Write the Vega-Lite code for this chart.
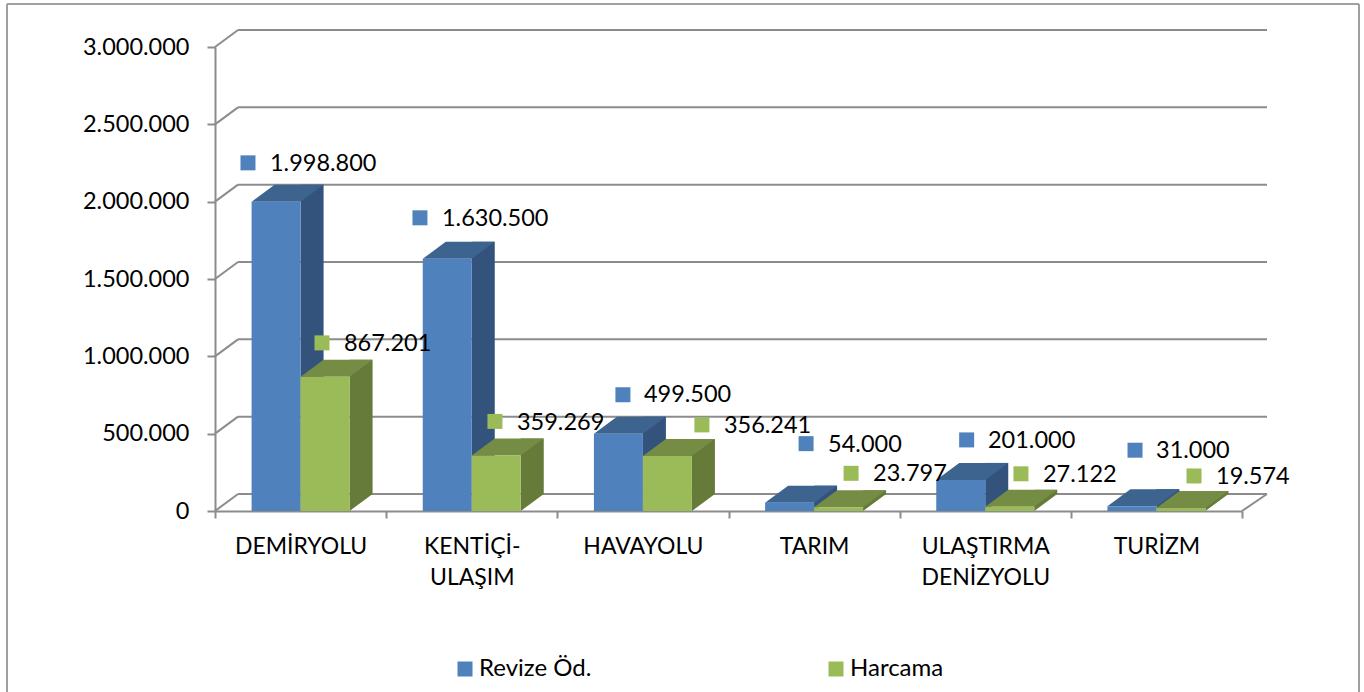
{
"$schema":"https://vega.github.io/schema/vega-lite/v6.json",
"autosize":"none",
"width":1027,"height":464,
"padding":{"left":215,"top":47,"right":122,"bottom":181},
"background":"white",
"config":{"locale":{"number":{"decimal":",","thousands":".","grouping":[3],"currency":["","TL"]}},"view":{"stroke":null},"font":"Lato",
"axisY":{"labelFontSize":23.5,"labelColor":"black","labelPadding":18,"tickSize":8,"tickWidth":2,"tickColor":"#8c8c8c","domainColor":"#8c8c8c","domainWidth":2,"grid":false,"labelFont":"Lato","title":null}},
"data":{"values":[
{"kategori":"DEMİRYOLU","seri":"Revize Öd.","deger":1998800},
{"kategori":"DEMİRYOLU","seri":"Harcama","deger":867201},
{"kategori":"KENTİÇİ- ULAŞIM","seri":"Revize Öd.","deger":1630500},
{"kategori":"KENTİÇİ- ULAŞIM","seri":"Harcama","deger":359269},
{"kategori":"HAVAYOLU","seri":"Revize Öd.","deger":499500},
{"kategori":"HAVAYOLU","seri":"Harcama","deger":356241},
{"kategori":"TARIM","seri":"Revize Öd.","deger":54000},
{"kategori":"TARIM","seri":"Harcama","deger":23797},
{"kategori":"ULAŞTIRMA DENİZYOLU","seri":"Revize Öd.","deger":201000},
{"kategori":"ULAŞTIRMA DENİZYOLU","seri":"Harcama","deger":27122},
{"kategori":"TURİZM","seri":"Revize Öd.","deger":31000},
{"kategori":"TURİZM","seri":"Harcama","deger":19574}
]},
"encoding":{
"x":{"field":"kategori","type":"nominal","sort":null,"title":null,
"scale":{"padding":0},
"axis":{"labelAngle":0,"labelExpr":"split(datum.label,' ')","labelFontSize":23,"labelColor":"black","labelPadding":17,"labelLineHeight":31,"labelLimit":300,"tickBand":"extent","tickSize":7,"tickWidth":2,"tickColor":"#8c8c8c","domainColor":"#8c8c8c","domainWidth":2,"labelBaseline":"top","labelFont":"Lato"}},
"y":{"field":"deger","type":"quantitative","title":null,
"scale":{"domain":[0,3000000]},
"axis":{"labelExpr":"format(datum.value,',')","values":[0,500000,1000000,1500000,2000000,2500000,3000000]}}
},
"layer":[
{"data":{"values":[{"k":"cerceve"}]},"mark":{"type":"rule","color":"#a0a0a0","strokeWidth":2,"clip":false},"encoding":{"x":{"value":-208},"y":{"value":-43},"y2":{"value":645}}},
{"data":{"values":[{"k":"cerceve"}]},"mark":{"type":"rule","color":"#a0a0a0","strokeWidth":2,"clip":false},"encoding":{"x":{"value":1144},"y":{"value":-43},"y2":{"value":645}}},
{"data":{"values":[{"k":"cerceve"}]},"mark":{"type":"rule","color":"#a0a0a0","strokeWidth":2,"clip":false},"encoding":{"y":{"value":-43},"x":{"value":-208},"x2":{"value":1144}}},
{"data":{"values":[{"v":0},{"v":500000},{"v":1000000},{"v":1500000},{"v":2000000},{"v":2500000},{"v":3000000}]},
"mark":{"type":"rule","color":"#8c8c8c","strokeWidth":2,"yOffset":-17,"clip":false},
"encoding":{"x":{"value":23},"x2":{"value":1052},"y":{"field":"v","type":"quantitative","title":null,"axis":{"labelExpr":"format(datum.value,',')","values":[0,500000,1000000,1500000,2000000,2500000,3000000]}}}},
{"data":{"values":[{"v":0},{"v":500000},{"v":1000000},{"v":1500000},{"v":2000000},{"v":2500000},{"v":3000000}]},
"mark":{"type":"rule","color":"#8c8c8c","strokeWidth":2,"y2Offset":-17,"clip":false},
"encoding":{"x":{"value":0},"x2":{"value":23},"y":{"field":"v","type":"quantitative","title":null,"axis":{"labelExpr":"format(datum.value,',')","values":[0,500000,1000000,1500000,2000000,2500000,3000000]}},"y2":{"field":"v"}}},
{"data":{"values":[{"v":0}]},
"mark":{"type":"rule","color":"#8c8c8c","strokeWidth":2,"y2Offset":-17,"clip":false},
"encoding":{"x":{"value":1027},"x2":{"value":1052},"y":{"field":"v","type":"quantitative","title":null,"axis":{"labelExpr":"format(datum.value,',')","values":[0,500000,1000000,1500000,2000000,2500000,3000000]}},"y2":{"field":"v"}}},

{"transform":[{"filter":"datum.seri==='Revize Öd.'"}],"mark":{"type":"bar","width":23,"xOffset":11.5,"yOffset":-17,"color":"#33537c"}},
{"transform":[{"filter":"datum.seri==='Revize Öd.'"}],"mark":{"type":"point","shape":"M0 0L23 -17L0 -17Z","size":4,"filled":true,"opacity":1,"color":"#33537c"},"encoding":{"y":{"datum":0,"type":"quantitative","title":null,"axis":{"labelExpr":"format(datum.value,',')","values":[0,500000,1000000,1500000,2000000,2500000,3000000]}}}},
{"transform":[{"filter":"datum.seri==='Revize Öd.'"}],"mark":{"type":"point","shape":"M-49 0L-26 -17L23 -17L0 0Z","size":4,"filled":true,"opacity":1,"color":"#3d638f"}},
{"transform":[{"filter":"datum.seri==='Revize Öd.'"}],"mark":{"type":"bar","width":49,"xOffset":-24.5},"encoding":{"color":{"field":"seri","type":"nominal","title":null,"scale":{"domain":["Revize Öd.","Harcama"],"range":["#4f81bd","#9bbb59"]},"legend":{"orient":"none","legendX":238,"legendY":610,"direction":"horizontal","symbolType":"square","symbolSize":225,"labelFontSize":24,"labelColor":"black","columnPadding":232,"labelOffset":2,"labelFont":"Lato","symbolStrokeWidth":0}}}},

{"transform":[{"filter":"datum.seri==='Harcama'"}],"mark":{"type":"bar","width":23,"xOffset":60.5,"yOffset":-17,"color":"#667a3a"}},
{"transform":[{"filter":"datum.seri==='Harcama'"}],"mark":{"type":"point","shape":"M49 0L72 -17L49 -17Z","size":4,"filled":true,"opacity":1,"color":"#667a3a"},"encoding":{"y":{"datum":0,"type":"quantitative","title":null,"axis":{"labelExpr":"format(datum.value,',')","values":[0,500000,1000000,1500000,2000000,2500000,3000000]}}}},
{"transform":[{"filter":"datum.seri==='Harcama'"}],"mark":{"type":"point","shape":"M0 0L23 -17L72 -17L49 0Z","size":4,"filled":true,"opacity":1,"color":"#748c43"}},
{"transform":[{"filter":"datum.seri==='Harcama'"}],"mark":{"type":"bar","width":49,"xOffset":24.5},"encoding":{"color":{"field":"seri","type":"nominal","title":null,"legend":null}}},

{"transform":[{"filter":"datum.kategori==='DEMİRYOLU' && datum.seri==='Revize Öd.'"}],"layer":[{"mark":{"type":"square","size":225,"opacity":1,"color":"#4f81bd","xOffset":-52.6,"yOffset":-39}},{"mark":{"type":"text","fontSize":23.5,"align":"left","baseline":"middle","color":"black","xOffset":-30.6,"yOffset":-37.5},"encoding":{"text":{"field":"deger","format":","}}}]},
{"transform":[{"filter":"datum.kategori==='DEMİRYOLU' && datum.seri==='Harcama'"}],"layer":[{"mark":{"type":"square","size":225,"opacity":1,"color":"#9bbb59","xOffset":21.4,"yOffset":-34}},{"mark":{"type":"text","fontSize":23.5,"align":"left","baseline":"middle","color":"black","xOffset":43.4,"yOffset":-32.5},"encoding":{"text":{"field":"deger","format":","}}}]},
{"transform":[{"filter":"datum.kategori==='KENTİÇİ- ULAŞIM' && datum.seri==='Revize Öd.'"}],"layer":[{"mark":{"type":"square","size":225,"opacity":1,"color":"#4f81bd","xOffset":-51.8,"yOffset":-41}},{"mark":{"type":"text","fontSize":23.5,"align":"left","baseline":"middle","color":"black","xOffset":-29.8,"yOffset":-39.5},"encoding":{"text":{"field":"deger","format":","}}}]},
{"transform":[{"filter":"datum.kategori==='KENTİÇİ- ULAŞIM' && datum.seri==='Harcama'"}],"layer":[{"mark":{"type":"square","size":225,"opacity":1,"color":"#9bbb59","xOffset":23.2,"yOffset":-34}},{"mark":{"type":"text","fontSize":23.5,"align":"left","baseline":"middle","color":"black","xOffset":45.2,"yOffset":-32.5},"encoding":{"text":{"field":"deger","format":","}}}]},
{"transform":[{"filter":"datum.kategori==='HAVAYOLU' && datum.seri==='Revize Öd.'"}],"layer":[{"mark":{"type":"square","size":225,"opacity":1,"color":"#4f81bd","xOffset":-20,"yOffset":-39}},{"mark":{"type":"text","fontSize":23.5,"align":"left","baseline":"middle","color":"black","xOffset":1,"yOffset":-38.5},"encoding":{"text":{"field":"deger","format":","}}}]},
{"transform":[{"filter":"datum.kategori==='HAVAYOLU' && datum.seri==='Harcama'"}],"layer":[{"mark":{"type":"square","size":225,"opacity":1,"color":"#9bbb59","xOffset":59,"yOffset":-31}},{"mark":{"type":"text","fontSize":23.5,"align":"left","baseline":"middle","color":"black","xOffset":81,"yOffset":-30},"encoding":{"text":{"field":"deger","format":","}}}]},
{"transform":[{"filter":"datum.kategori==='TARIM' && datum.seri==='Revize Öd.'"}],"layer":[{"mark":{"type":"square","size":225,"opacity":1,"color":"#4f81bd","xOffset":-8,"yOffset":-59}},{"mark":{"type":"text","fontSize":23.5,"align":"left","baseline":"middle","color":"black","xOffset":14,"yOffset":-58},"encoding":{"text":{"field":"deger","format":","}}}]},
{"transform":[{"filter":"datum.kategori==='TARIM' && datum.seri==='Harcama'"}],"layer":[{"mark":{"type":"square","size":225,"opacity":1,"color":"#9bbb59","xOffset":37,"yOffset":-34}},{"mark":{"type":"text","fontSize":23.5,"align":"left","baseline":"middle","color":"black","xOffset":59,"yOffset":-33},"encoding":{"text":{"field":"deger","format":","}}}]},
{"transform":[{"filter":"datum.kategori==='ULAŞTIRMA DENİZYOLU' && datum.seri==='Revize Öd.'"}],"layer":[{"mark":{"type":"square","size":225,"opacity":1,"color":"#4f81bd","xOffset":-18.6,"yOffset":-40}},{"mark":{"type":"text","fontSize":23.5,"align":"left","baseline":"middle","color":"black","xOffset":2.7,"yOffset":-39},"encoding":{"text":{"field":"deger","format":","}}}]},
{"transform":[{"filter":"datum.kategori==='ULAŞTIRMA DENİZYOLU' && datum.seri==='Harcama'"}],"layer":[{"mark":{"type":"square","size":225,"opacity":1,"color":"#9bbb59","xOffset":35.7,"yOffset":-33}},{"mark":{"type":"text","fontSize":23.5,"align":"left","baseline":"middle","color":"black","xOffset":57.7,"yOffset":-32},"encoding":{"text":{"field":"deger","format":","}}}]},
{"transform":[{"filter":"datum.kategori==='TURİZM' && datum.seri==='Revize Öd.'"}],"layer":[{"mark":{"type":"square","size":225,"opacity":1,"color":"#4f81bd","xOffset":-21.4,"yOffset":-56}},{"mark":{"type":"text","fontSize":23.5,"align":"left","baseline":"middle","color":"black","xOffset":-0.4,"yOffset":-55},"encoding":{"text":{"field":"deger","format":","}}}]},
{"transform":[{"filter":"datum.kategori==='TURİZM' && datum.seri==='Harcama'"}],"layer":[{"mark":{"type":"square","size":225,"opacity":1,"color":"#9bbb59","xOffset":37.6,"yOffset":-32}},{"mark":{"type":"text","fontSize":23.5,"align":"left","baseline":"middle","color":"black","xOffset":59.6,"yOffset":-31},"encoding":{"text":{"field":"deger","format":","}}}]}
]
}
